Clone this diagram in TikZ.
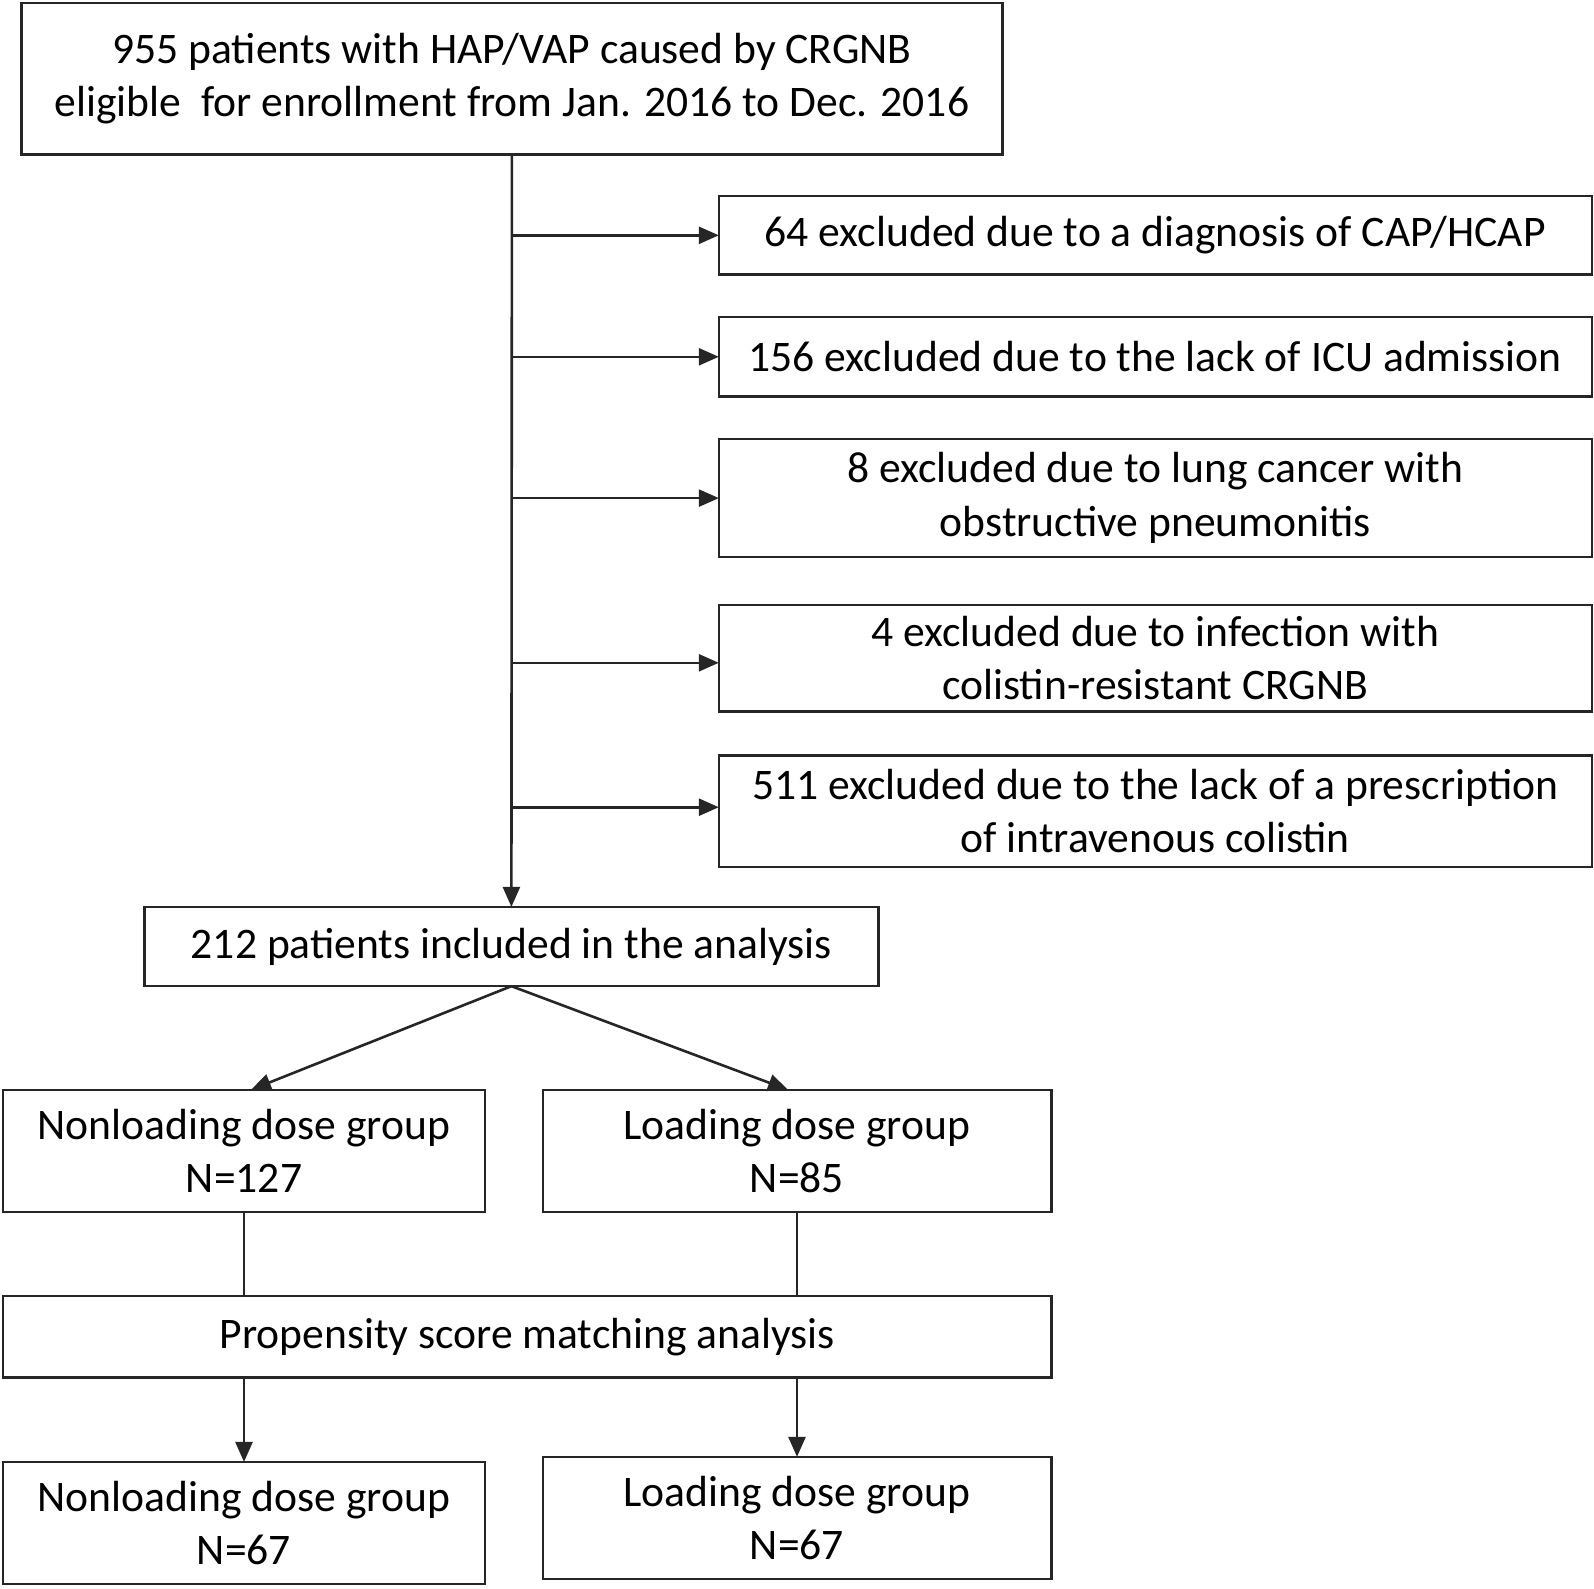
\documentclass[tikz,border=0pt]{standalone}
\usepackage{fontspec}
\setmainfont{Carlito}
\usetikzlibrary{arrows.meta}
\begin{document}
\begin{tikzpicture}[x=1pt,y=-1pt,
  box/.style={draw=black!85, line width=2.6pt, rectangle, inner sep=0pt, outer sep=0pt,
    align=center, font=\fontsize{43.6}{53.5}\selectfont, text=black},
  conn/.style={draw=black!85, line width=2.6pt},
  arr/.style={conn, -{Triangle[length=20pt,width=17pt]}}]
\useasboundingbox[fill=white] (0,0) rectangle (1594,1588);
% top
\node[box, minimum width=981pt, minimum height=151.5pt] (top) at (511.9,78.8)
  {955 patients with HAP/VAP caused by CRGNB\\eligible~ for enrollment from Jan. 2016 to Dec. 2016};
% exclusion boxes
\node[box, minimum width=873pt, minimum height=78.3pt] (e1) at (1155.3,235.3) {64 excluded due to a diagnosis of CAP/HCAP};
\node[box, minimum width=873pt, minimum height=79.3pt] (e2) at (1155.3,356.8) {156 excluded due to the lack of ICU admission};
\node[box, minimum width=873pt, minimum height=117.9pt] (e3) at (1155.3,498.1) {8 excluded due to lung cancer with\\obstructive pneumonitis};
\node[box, minimum width=873pt, minimum height=106.7pt] (e4) at (1155.3,658.2) {4 excluded due to infection with\\colistin-resistant CRGNB};
\node[box, minimum width=873pt, minimum height=111.9pt] (e5) at (1155.3,811.2) {511 excluded due to the lack of a prescription\\of intravenous colistin};
% included
\node[box, minimum width=733.9pt, minimum height=79.3pt] (inc) at (511.4,946.5) {212 patients included in the analysis};
% groups
\node[box, minimum width=482pt, minimum height=122pt] (non1) at (244,1150.8) {Nonloading dose group\\N=127};
\node[box, minimum width=508.4pt, minimum height=122pt] (ld1) at (797,1150.8) {Loading dose group\\N=85};
\node[box, minimum width=1048.2pt, minimum height=81.3pt] (psm) at (527.1,1336.8) {Propensity score matching analysis};
\node[box, minimum width=482pt, minimum height=122pt] (non2) at (244,1522.9) {Nonloading dose group\\N=67};
\node[box, minimum width=508.4pt, minimum height=122pt] (ld2) at (797,1517.8) {Loading dose group\\N=67};
% trunk
\coordinate (t1) at (512,235.3);
\coordinate (t2) at (512,356.8);
\coordinate (t3) at (512,498.1);
\coordinate (t4) at (512,662.8);
\coordinate (t5) at (512,807.2);
\draw[arr] (top.south) -- (inc.north);
\draw[arr] (t1) -- (e1.west |- t1);
\draw[arr] (t2) -- (e2.west |- t2);
\draw[arr] (t3) -- (e3.west |- t3);
\draw[arr] (t4) -- (e4.west |- t4);
\draw[arr] (t5) -- (e5.west |- t5);
% split
\coordinate (n1top) at (251,1089.8);
\coordinate (l1top) at (788,1089.8);
\draw[arr] (inc.south) -- (n1top);
\draw[arr] (inc.south) -- (l1top);
% to psm
\draw[conn] (non1.south) -- (non1.south |- psm.north);
\draw[conn] (ld1.south) -- (ld1.south |- psm.north);
% to final
\draw[arr] (non2.north |- psm.south) -- (non2.north);
\draw[arr] (ld2.north |- psm.south) -- (ld2.north);
\end{tikzpicture}
\end{document}
